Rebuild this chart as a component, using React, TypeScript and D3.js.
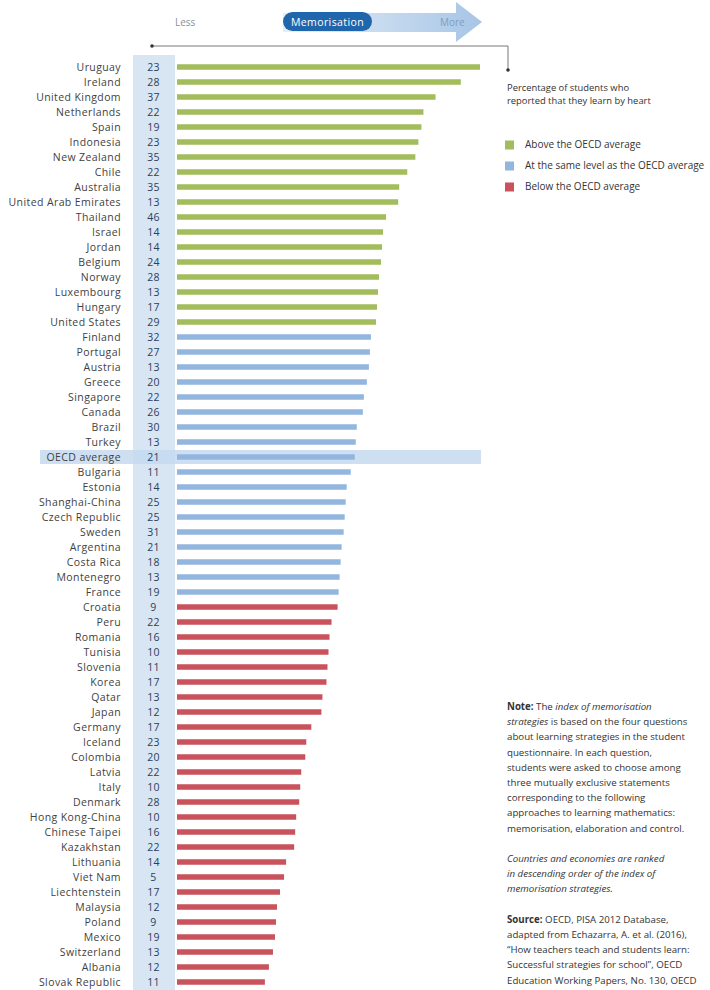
import React from "react";
import * as d3 from "d3";

// Countries and economies, ranked by the index of memorisation strategies
const countries = [
  "Uruguay", "Ireland", "United Kingdom", "Netherlands", "Spain", "Indonesia",
  "New Zealand", "Chile", "Australia", "United Arab Emirates", "Thailand", "Israel",
  "Jordan", "Belgium", "Norway", "Luxembourg", "Hungary", "United States",
  "Finland", "Portugal", "Austria", "Greece", "Singapore", "Canada", "Brazil",
  "Turkey", "OECD average", "Bulgaria", "Estonia", "Shanghai-China", "Czech Republic",
  "Sweden", "Argentina", "Costa Rica", "Montenegro", "France",
  "Croatia", "Peru", "Romania", "Tunisia", "Slovenia", "Korea", "Qatar", "Japan",
  "Germany", "Iceland", "Colombia", "Latvia", "Italy", "Denmark", "Hong Kong-China",
  "Chinese Taipei", "Kazakhstan", "Lithuania", "Viet Nam", "Liechtenstein",
  "Malaysia", "Poland", "Mexico", "Switzerland", "Albania", "Slovak Republic",
];

// Index of memorisation strategies (bar length)
const indexValues = [
  3.0, 2.81, 2.56, 2.44, 2.42, 2.39, 2.36, 2.28, 2.2, 2.19, 2.07, 2.04,
  2.03, 2.02, 2.0, 1.99, 1.98, 1.97,
  1.92, 1.91, 1.9, 1.88, 1.85, 1.84, 1.78, 1.77, 1.76, 1.72, 1.68, 1.67, 1.66,
  1.65, 1.63, 1.62, 1.61, 1.6,
  1.59, 1.53, 1.51, 1.5, 1.49, 1.48, 1.44, 1.43, 1.33, 1.28, 1.27, 1.23, 1.22,
  1.21, 1.18, 1.17, 1.16, 1.08, 1.06, 1.02, 0.99, 0.98, 0.97, 0.95, 0.91, 0.87,
];

// Percentage of students who reported that they learn by heart
const learnByHeart = [
  23, 28, 37, 22, 19, 23, 35, 22, 35, 13, 46, 14, 14, 24, 28, 13, 17, 29,
  32, 27, 13, 20, 22, 26, 30, 13, 21, 11, 14, 25, 25, 31, 21, 18, 13, 19,
  9, 22, 16, 10, 11, 17, 13, 12, 17, 23, 20, 22, 10, 28, 10, 16, 22, 14, 5,
  17, 12, 9, 19, 13, 12, 11,
];

// Group relative to the OECD average: 0 above, 1 same level, 2 below
const groups = [
  0, 0, 0, 0, 0, 0, 0, 0, 0, 0, 0, 0, 0, 0, 0, 0, 0, 0,
  1, 1, 1, 1, 1, 1, 1, 1, 1, 1, 1, 1, 1, 1, 1, 1, 1, 1,
  2, 2, 2, 2, 2, 2, 2, 2, 2, 2, 2, 2, 2, 2, 2, 2, 2, 2, 2, 2, 2, 2, 2, 2, 2, 2,
];

const legendLabels = [
  "Above the OECD average",
  "At the same level as the OECD average",
  "Below the OECD average",
];
const groupColors = ["#a3bc5c", "#92b6de", "#c9525d"];

const FONT = "'Open Sans', 'DejaVu Sans', sans-serif";

type Seg = { t: string; b?: boolean; i?: boolean };
const noteLines: Seg[][] = [
  [{ t: "Note: ", b: true }, { t: "The " }, { t: "index of memorisation", i: true }],
  [{ t: "strategies", i: true }, { t: " is based on the four questions" }],
  [{ t: "about learning strategies in the student" }],
  [{ t: "questionnaire. In each question," }],
  [{ t: "students were asked to choose among" }],
  [{ t: "three mutually exclusive statements" }],
  [{ t: "corresponding to the following" }],
  [{ t: "approaches to learning mathematics:" }],
  [{ t: "memorisation, elaboration and control." }],
  [],
  [{ t: "Countries and economies are ranked", i: true }],
  [{ t: "in descending order of the index of", i: true }],
  [{ t: "memorisation strategies.", i: true }],
  [],
  [{ t: "Source: ", b: true }, { t: "OECD, PISA 2012 Database," }],
  [{ t: "adapted from Echazarra, A. et al. (2016)," }],
  [{ t: "\u201cHow teachers teach and students learn:" }],
  [{ t: "Successful strategies for school\u201d, OECD" }],
  [{ t: "Education Working Papers, No. 130, OECD" }],
];

export default function App() {
  const width = 710;
  const height = 990;

  const y = d3.scalePoint<string>().domain(countries).range([67, 982]);
  const x = d3.scaleLinear().domain([0, 3]).range([177, 480]);

  const colLeft = 133;
  const colRight = 175;
  const oecdY = y("OECD average") as number;

  const arrowPath: [number, number][] = [
    [283, 13], [456, 13], [456, 2], [482, 22], [456, 42], [456, 32], [283, 32],
  ];

  return (
    <svg
      width={width}
      height={height}
      style={{ position: "absolute", left: 0, top: 0, background: "#fff" }}
      fontFamily={FONT}
    >
      <defs>
        <linearGradient id="shaftGrad" x1="0" x2="1" y1="0" y2="0">
          <stop offset="0" stopColor="#e6eff8" />
          <stop offset="1" stopColor="#a7c5e6" />
        </linearGradient>
        <linearGradient id="lineGrad" x1="0" x2="1" y1="0" y2="0">
          <stop offset="0" stopColor="#e3e8ee" />
          <stop offset="1" stopColor="#c9d9ea" />
        </linearGradient>
      </defs>

      {/* Direction arrow */}
      <line x1={199} x2={285} y1={22} y2={22} stroke="url(#lineGrad)" strokeWidth={2} />
      <path d={(d3.line()(arrowPath) ?? "") + "Z"} fill="url(#shaftGrad)" />
      <text x={175} y={25.5} fontSize={10} fill="#8a8f96">Less</text>
      <rect x={283} y={12} width={89} height={19} rx={9.5} fill="#1f66ad" />
      <text x={327.5} y={25.5} fontSize={10.5} letterSpacing={0.4} fill="#fff" textAnchor="middle">
        Memorisation
      </text>
      <text x={440} y={25.5} fontSize={10} fill="#7f9cc2">More</text>

      {/* Learn-by-heart column background */}
      <rect x={colLeft} y={55} width={colRight - colLeft} height={height - 55} fill="#d8e6f4" />

      {/* OECD average highlight */}
      <rect x={40} y={oecdY - 7} width={441} height={14} fill="#c4d9ef" opacity={0.85} />

      {/* Bracket to the column note */}
      <polyline points="152,46 508,46 508,70" stroke="#555" strokeWidth={0.8} fill="none" />
      <circle cx={152} cy={46} r={1.8} fill="#333" />
      <circle cx={508} cy={70} r={1.8} fill="#333" />

      {/* Bars */}
      {countries.map((c, i) => (
        <rect
          key={c}
          x={x(0)}
          y={(y(c) as number) - 2.75}
          width={x(indexValues[i]) - x(0)}
          height={5.5}
          fill={groupColors[groups[i]]}
        />
      ))}

      {/* Country labels */}
      {countries.map((c) => (
        <text
          key={c}
          x={121}
          y={(y(c) as number) + 3.6}
          fontSize={10.5}
          textAnchor="end"
          fill="#3f3f3f"
          letterSpacing={0.4}
        >
          {c}
        </text>
      ))}

      {/* Percentages */}
      {countries.map((c, i) => (
        <text
          key={c}
          x={153.5}
          y={(y(c) as number) + 3.6}
          fontSize={10.5}
          letterSpacing={0.3}
          textAnchor="middle"
          fill="#2c3e5c"
        >
          {learnByHeart[i]}
        </text>
      ))}

      {/* Column note */}
      <text x={507} y={91} fontSize={9.4} fill="#333">
        <tspan x={507}>Percentage of students who</tspan>
        <tspan x={507} dy={13}>reported that they learn by heart</tspan>
      </text>

      {/* Legend */}
      {legendLabels.map((l, i) => (
        <g key={l} transform={`translate(505, ${145 + i * 21})`}>
          <rect x={0} y={-4.5} width={9} height={9} fill={groupColors[i]} />
          <text x={20} y={3.4} fontSize={10} fill="#333">{l}</text>
        </g>
      ))}

      {/* Notes */}
      {noteLines.map((segs, li) => {
        const yy = 710 + li * 15.2;
        return (
          <text key={li} x={507} y={yy} fontSize={9.7} fill="#333">
            {segs.map((s, si) => (
              <tspan
                key={si}
                fontWeight={s.b ? "bold" : "normal"}
                fontStyle={s.i ? "italic" : "normal"}
              >
                {s.t}
              </tspan>
            ))}
          </text>
        );
      })}
    </svg>
  );
}
